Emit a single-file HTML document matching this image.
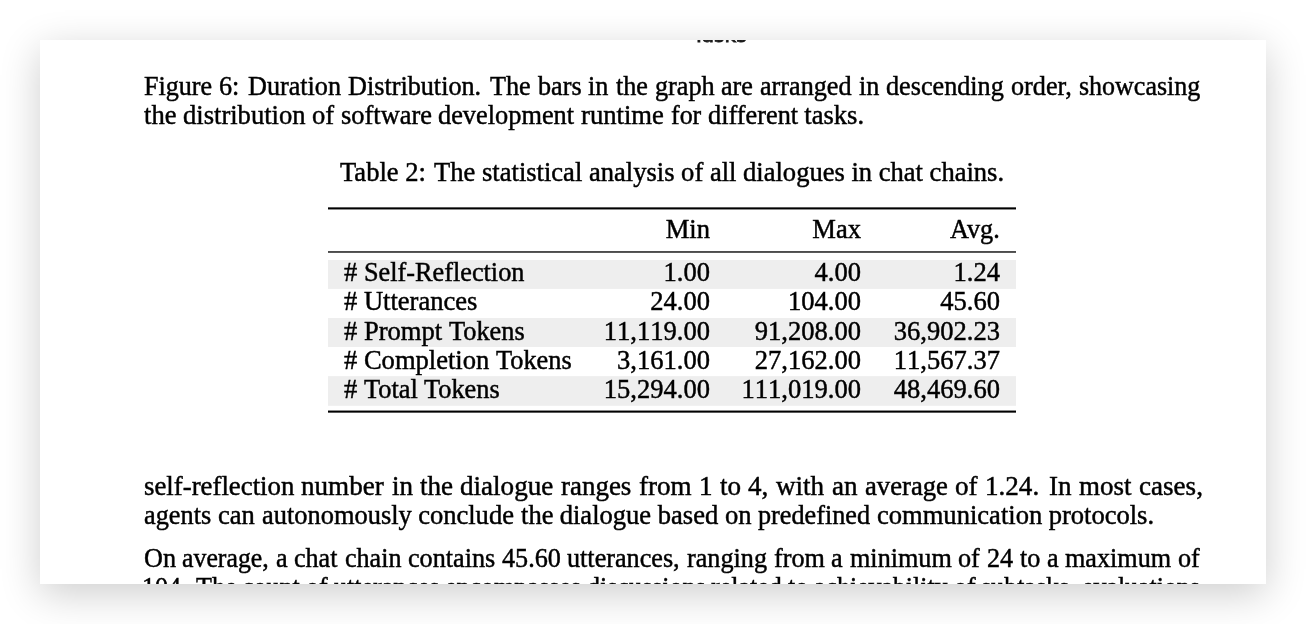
<!DOCTYPE html>
<html lang="en">
<head>
<meta charset="utf-8">
<title>Table 2: The statistical analysis of all dialogues in chat chains</title>
<style>
html,body{margin:0;padding:0;background:#fff;}
body{width:1306px;height:624px;overflow:hidden;position:relative;}
#page{position:absolute;left:40px;top:40px;width:1226px;height:544px;background:#fff;overflow:hidden;
  font-family:"Liberation Serif","Times New Roman",serif;font-size:26.566px;color:#000;-webkit-text-stroke:0.45px #000;}
#shadow{position:absolute;left:40px;top:40px;width:1226px;height:544px;box-shadow:0 10px 38px rgba(0,0,0,0.195);}
.l{position:absolute;left:0;width:1226px;white-space:nowrap;line-height:30px;height:30px;}
.l span{position:absolute;top:0;transform-origin:0 0;}
.nk{font-kerning:none;}
#tbl{position:absolute;left:0;top:0;}
.rule{fill:#000;}
.bg{fill:#eeeeee;}
.fig{position:absolute;font-family:"DejaVu Sans","Liberation Sans",sans-serif;font-size:20.2px;color:#1a1a1a;white-space:nowrap;line-height:24px;-webkit-text-stroke:0.8px #1a1a1a;}
</style>
</head>
<body>
<div id="shadow"></div>
<div id="page">
<div class="fig" style="left:652.70px;top:-17.35px;">Tasks</div>
<svg id="tbl" width="1226" height="544" viewBox="0 0 1226 544">
<rect class="bg" x="288" y="220.00" width="688" height="28.90"/>
<rect class="bg" x="288" y="278.00" width="688" height="28.95"/>
<rect class="bg" x="288" y="336.15" width="688" height="29.65"/>
<rect class="rule" x="288" y="167.35" width="688" height="2.1"/>
<rect class="rule" x="288" y="211.30" width="688" height="1.35"/>
<rect class="rule" x="288" y="370.55" width="688" height="2.1"/>
</svg>
<div class="l" style="top:30.63px"><span style="left:103.70px;transform:scaleX(0.9832)">Figure</span> <span class="nk" style="left:178.79px;transform:scaleX(0.9860)">6:</span> <span style="left:208.00px;transform:scaleX(0.9860)">Duration</span> <span style="left:307.99px;transform:scaleX(0.9866)">Distribution.</span> <span style="left:450.27px;transform:scaleX(0.9860)">The</span> <span style="left:497.92px;transform:scaleX(0.9860)">bars</span> <span style="left:548.47px;transform:scaleX(0.9860)">in</span> <span style="left:575.78px;transform:scaleX(0.9862)">the</span> <span style="left:614.72px;transform:scaleX(0.9882)">graph</span> <span style="left:681.40px;transform:scaleX(0.9862)">are</span> <span style="left:720.30px;transform:scaleX(0.9861)">arranged</span> <span style="left:818.81px;transform:scaleX(0.9860)">in</span> <span style="left:846.12px;transform:scaleX(0.9860)">descending</span> <span style="left:970.83px;transform:scaleX(0.9860)">order,</span> <span style="left:1038.58px;transform:scaleX(0.9786)">showcasing</span></div>
<div class="l" style="top:59.73px"><span style="left:103.70px;transform:scaleX(1.0003)">the</span> <span style="left:142.79px;transform:scaleX(1.0008)">distribution</span> <span style="left:271.95px">of</span> <span style="left:300.72px;transform:scaleX(0.9953)">software</span> <span style="left:398.34px;transform:scaleX(0.9926)">development</span> <span style="left:541.09px;transform:scaleX(1.0043)">runtime</span> <span style="left:630.67px;transform:scaleX(0.9777)">for</span> <span style="left:667.59px;transform:scaleX(0.9911)">different</span> <span style="left:764.32px">tasks.</span></div>
<div class="l" style="top:116.63px"><span style="left:300.00px">Table</span> <span class="nk" style="left:365.22px">2:</span> <span style="left:394.11px">The</span> <span style="left:442.03px">statistical</span> <span style="left:548.94px">analysis</span> <span style="left:641.11px">of</span> <span style="left:669.88px">all</span> <span style="left:703.07px">dialogues</span> <span style="left:811.46px">in</span> <span style="left:838.76px">chat</span> <span style="left:889.62px">chains.</span></div>
<div class="l" role="cell" style="top:173.53px"><span style="left:625.73px">Min</span></div>
<div class="l" role="cell" style="top:173.53px"><span style="left:772.33px">Max</span></div>
<div class="l" role="cell" style="top:173.53px"><span style="left:910.22px;transform:scaleX(0.9879)">Avg.</span></div>
<div class="l" style="top:217.08px"><span style="left:304.00px">#</span> <span style="left:323.92px;transform:scaleX(0.9890)">Self-Reflection</span></div>
<div class="l" role="cell" style="top:217.08px"><span class="nk" style="left:623.53px">1.00</span></div>
<div class="l" role="cell" style="top:217.08px"><span class="nk" style="left:774.53px">4.00</span></div>
<div class="l" role="cell" style="top:217.08px"><span class="nk" style="left:913.53px">1.24</span></div>
<div class="l" style="top:246.38px"><span style="left:304.00px">#</span> <span style="left:323.92px">Utterances</span></div>
<div class="l" role="cell" style="top:246.38px"><span class="nk" style="left:610.27px">24.00</span></div>
<div class="l" role="cell" style="top:246.38px"><span class="nk" style="left:747.98px">104.00</span></div>
<div class="l" role="cell" style="top:246.38px"><span class="nk" style="left:900.27px">45.60</span></div>
<div class="l" style="top:275.68px"><span style="left:304.00px">#</span> <span style="left:323.92px">Prompt</span> <span style="left:408.75px;transform:scaleX(0.9930)">Tokens</span></div>
<div class="l" role="cell" style="top:275.68px"><span class="nk" style="left:563.81px">11,119.00</span></div>
<div class="l" role="cell" style="top:275.68px"><span class="nk" style="left:714.81px">91,208.00</span></div>
<div class="l" role="cell" style="top:275.68px"><span class="nk" style="left:853.81px">36,902.23</span></div>
<div class="l" style="top:304.98px"><span style="left:304.00px">#</span> <span style="left:323.92px">Completion</span> <span style="left:455.94px;transform:scaleX(0.9930)">Tokens</span></div>
<div class="l" role="cell" style="top:304.98px"><span class="nk" style="left:577.08px">3,161.00</span></div>
<div class="l" role="cell" style="top:304.98px"><span class="nk" style="left:714.81px">27,162.00</span></div>
<div class="l" role="cell" style="top:304.98px"><span class="nk" style="left:853.81px">11,567.37</span></div>
<div class="l" style="top:334.28px"><span style="left:304.00px">#</span> <span style="left:323.92px;transform:scaleX(0.9952)">Total</span> <span style="left:384.48px;transform:scaleX(0.9930)">Tokens</span></div>
<div class="l" role="cell" style="top:334.28px"><span class="nk" style="left:563.81px">15,294.00</span></div>
<div class="l" role="cell" style="top:334.28px"><span class="nk" style="left:701.53px">111,019.00</span></div>
<div class="l" role="cell" style="top:334.28px"><span class="nk" style="left:853.81px">48,469.60</span></div>
<div class="l" style="top:431.13px"><span style="left:103.70px;transform:scaleX(1.0101)">self-reflection</span> <span style="left:261.46px;transform:scaleX(1.0201)">number</span> <span style="left:351.56px;transform:scaleX(1.0200)">in</span> <span style="left:380.01px;transform:scaleX(1.0202)">the</span> <span style="left:420.49px;transform:scaleX(1.0201)">dialogue</span> <span style="left:521.12px;transform:scaleX(1.0151)">ranges</span> <span style="left:598.84px;transform:scaleX(1.0200)">from</span> <span class="nk" style="left:658.86px;transform:scaleX(1.0200)">1</span> <span style="left:679.79px;transform:scaleX(1.0200)">to</span> <span class="nk" style="left:708.24px;transform:scaleX(1.0200)">4,</span> <span style="left:736.12px;transform:scaleX(1.0200)">with</span> <span style="left:791.65px;transform:scaleX(1.0200)">an</span> <span style="left:824.59px;transform:scaleX(1.0053)">average</span> <span style="left:914.94px;transform:scaleX(1.0200)">of</span> <span class="nk" style="left:944.89px;transform:scaleX(1.0200)">1.24.</span> <span style="left:1009.49px;transform:scaleX(1.0200)">In</span> <span style="left:1039.44px;transform:scaleX(1.0161)">most</span> <span style="left:1099.29px;transform:scaleX(1.0200)">cases,</span></div>
<div class="l" style="top:460.13px"><span style="left:104.40px;transform:scaleX(0.9903)">agents</span> <span style="left:178.21px;transform:scaleX(1.0004)">can</span> <span style="left:221.71px;transform:scaleX(0.9956)">autonomously</span> <span style="left:378.14px">conclude</span> <span style="left:480.62px;transform:scaleX(1.0005)">the</span> <span style="left:519.72px">dialogue</span> <span style="left:617.80px">based</span> <span style="left:684.89px;transform:scaleX(1.0006)">on</span> <span style="left:718.09px;transform:scaleX(0.9873)">predefined</span> <span style="left:836.80px;transform:scaleX(1.0003)">communication</span> <span style="left:1008.63px">protocols.</span></div>
<div class="l" style="top:502.53px"><span style="left:103.70px;transform:scaleX(0.9860)">On</span> <span style="left:142.45px;transform:scaleX(0.9729)">average,</span> <span style="left:235.96px;transform:scaleX(0.9860)">a</span> <span style="left:254.33px;transform:scaleX(0.9818)">chat</span> <span style="left:304.50px;transform:scaleX(0.9827)">chain</span> <span style="left:367.74px;transform:scaleX(0.9861)">contains</span> <span class="nk" style="left:461.73px;transform:scaleX(0.9860)">45.60</span> <span style="left:527.37px;transform:scaleX(0.9861)">utterances,</span> <span style="left:646.81px;transform:scaleX(0.9861)">ranging</span> <span style="left:733.52px;transform:scaleX(0.9860)">from</span> <span style="left:791.15px;transform:scaleX(0.9860)">a</span> <span style="left:809.53px;transform:scaleX(0.9861)">minimum</span> <span style="left:918.10px;transform:scaleX(0.9860)">of</span> <span class="nk" style="left:946.66px;transform:scaleX(0.9860)">24</span> <span style="left:979.58px;transform:scaleX(0.9860)">to</span> <span style="left:1006.70px;transform:scaleX(0.9860)">a</span> <span style="left:1025.07px;transform:scaleX(0.9861)">maximum</span> <span style="left:1137.98px;transform:scaleX(0.9860)">of</span></div>
<div class="l" style="top:532.43px"><span class="nk" style="left:102.20px;transform:scaleX(0.9800)">104.</span> <span style="left:155.74px;transform:scaleX(0.9800)">The</span> <span style="left:202.14px;transform:scaleX(0.9801)">count</span> <span style="left:265.90px;transform:scaleX(0.9800)">of</span> <span style="left:293.52px;transform:scaleX(0.9801)">utterances</span> <span style="left:404.93px;transform:scaleX(0.9801)">encompasses</span> <span style="left:546.70px;transform:scaleX(0.9800)">discussions</span> <span style="left:671.18px;transform:scaleX(0.9801)">related</span> <span style="left:747.90px;transform:scaleX(0.9800)">to</span> <span style="left:774.09px;transform:scaleX(0.9740)">achievability</span> <span style="left:913.57px;transform:scaleX(0.9800)">of</span> <span style="left:941.20px;transform:scaleX(0.9800)">subtasks,</span> <span style="left:1041.96px;transform:scaleX(0.9747)">evaluations</span></div>
</div>
</body>
</html>
